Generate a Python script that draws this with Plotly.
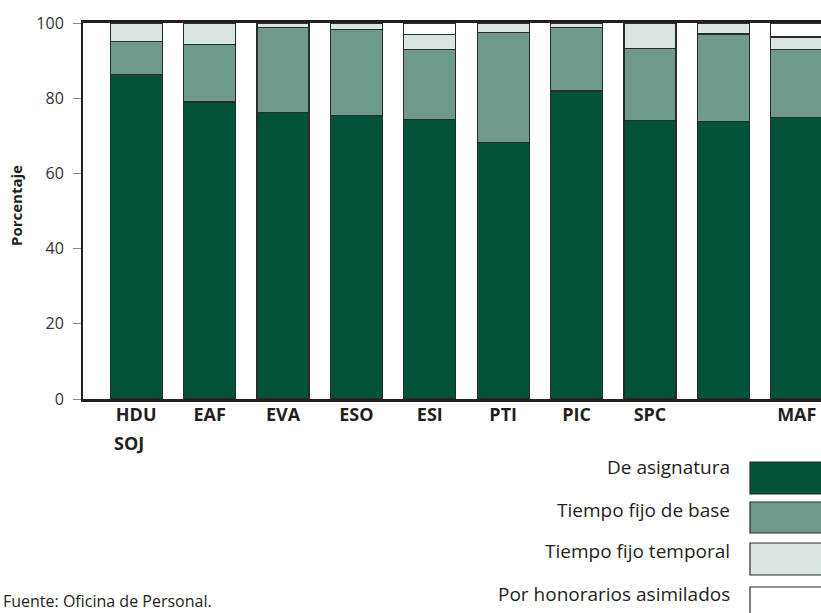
import plotly.graph_objects as go

# Share of each staff category per department (percent)
departments = ["HDU", "EAF", "EVA", "ESO", "ESI", "PTI", "PIC", "SPC", "SOJ", "MAF"]
tick_labels = ["HDU", "EAF", "EVA", "ESO", "ESI", "PTI", "PIC", "SPC", "", "MAF"]

de_asignatura = [86.4, 79.0, 76.1, 75.4, 74.4, 68.3, 81.9, 74.1, 73.9, 74.8]
tiempo_fijo_base = [8.7, 15.3, 22.8, 22.9, 18.5, 29.1, 16.9, 19.2, 23.2, 18.1]
tiempo_fijo_temporal = [4.9, 5.7, 1.1, 1.7, 4.1, 2.6, 1.2, 6.7, 2.9, 3.4]
honorarios_asimilados = [0.0, 0.0, 0.0, 0.0, 3.0, 0.0, 0.0, 0.0, 0.0, 3.7]

series_names = ["De asignatura", "Tiempo fijo de base", "Tiempo fijo temporal",
                "Por honorarios asimilados"]
series_colors = ["#00523b", "#6f998a", "#d9e5e2", "#ffffff"]

FONT = "Open Sans, sans-serif"
W, H = 821, 613
L, R, T, B = 83, 0, 23, 214


def px_x(p):
    """pixel x -> paper x"""
    return (p - L) / (W - L - R)


def px_y(p):
    """pixel y -> paper y"""
    return (H - B - p) / (H - T - B)


fig = go.Figure()
for name, vals, color in zip(series_names,
                             [de_asignatura, tiempo_fijo_base, tiempo_fijo_temporal, honorarios_asimilados],
                             series_colors):
    fig.add_trace(go.Bar(
        x=departments, y=vals, name=name,
        marker=dict(color=color, line=dict(color="#2b2b2b", width=1.2)),
        showlegend=False,
    ))

fig.update_layout(
    width=W, height=H,
    margin=dict(l=L, r=R, t=T, b=B),
    barmode="stack",
    bargap=0.29,
    paper_bgcolor="white",
    plot_bgcolor="white",
    font=dict(family=FONT, color="#231f20"),
)

fig.update_xaxes(
    range=[-0.7245, 9.33],
    tickvals=departments, ticktext=tick_labels,
    tickfont=dict(size=18, family=FONT, weight="bold"),
    ticklabelstandoff=-2,
    showline=True, linecolor="#231f20", linewidth=2.5, mirror=True,
    ticks="", showgrid=False,
)
fig.update_yaxes(
    range=[0, 100], dtick=20,
    tickfont=dict(size=16, color="#333333"),
    showline=True, linecolor="#231f20", linewidth=2,
    ticks="outside", ticklen=8, tickcolor="#888888",
    ticklabelstandoff=6,
    showgrid=False, zeroline=False,
)

# y axis title
fig.add_annotation(
    x=px_x(16), y=px_y(206), xref="paper", yref="paper",
    xanchor="center", yanchor="middle",
    text="<b>Porcentaje</b>", textangle=-90, showarrow=False,
    font=dict(size=15),
)
# second line under first tick
fig.add_annotation(
    x=px_x(129), y=px_y(443), xref="paper", yref="paper",
    xanchor="center", yanchor="middle",
    text="<b>SOJ</b>", showarrow=False, font=dict(size=18),
)

# legend drawn on the right, text left of swatch
swatch_tops = [462, 502, 543, 587]
swatch_bottoms = [494, 533, 575, 625]
text_y = [467, 510, 551, 594]
for name, color, y0, y1, ty in zip(series_names, series_colors, swatch_tops, swatch_bottoms, text_y):
    fig.add_shape(
        type="rect", xref="paper", yref="paper",
        x0=px_x(750), x1=px_x(830), y0=px_y(y1), y1=px_y(y0),
        fillcolor=color, line=dict(color="#2b2b2b", width=1.2),
    )
    fig.add_annotation(
        x=px_x(732), y=px_y(ty), xref="paper", yref="paper",
        text=name, showarrow=False, xanchor="right", yanchor="middle",
        font=dict(size=19, color="#231f20"),
    )

# source note
fig.add_annotation(
    x=px_x(1), y=px_y(601), xref="paper", yref="paper",
    text="Fuente: Oficina de Personal.", showarrow=False,
    xanchor="left", yanchor="middle",
    font=dict(size=16, color="#231f20"),
)

fig.write_html("out.html", config={"displayModeBar": False},
               post_script="document.body.style.margin='0';")
